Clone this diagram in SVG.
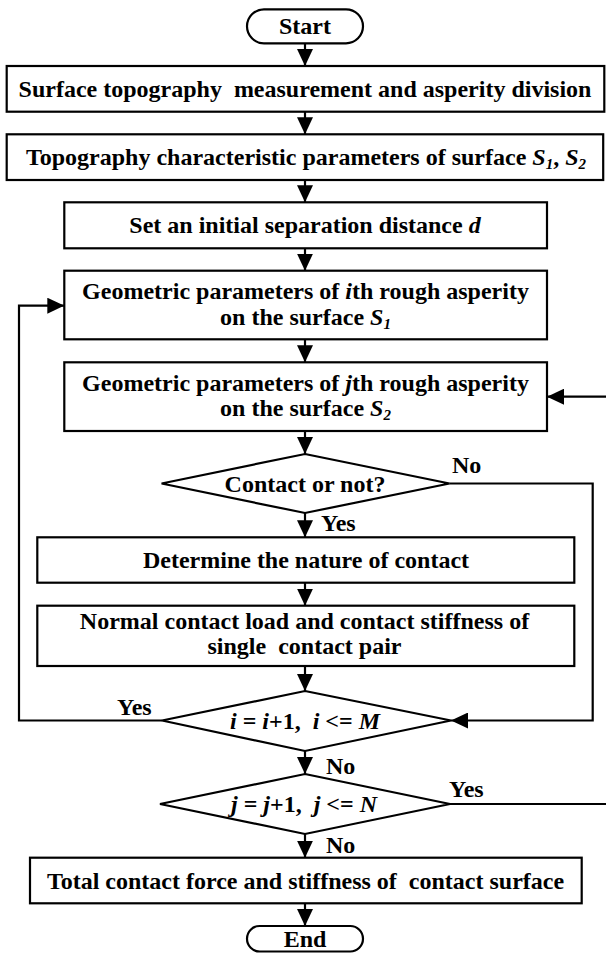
<svg xmlns="http://www.w3.org/2000/svg" width="606" height="953" viewBox="0 0 606 953">
<style>
.box{fill:#fff;stroke:#000;stroke-width:2.2}
.ln{fill:none;stroke:#000;stroke-width:2.2}
text{font-family:"Liberation Serif","Times New Roman",serif;font-weight:bold;font-size:24px;fill:#000;text-anchor:middle;white-space:pre}
.it{font-style:italic}
.sub{font-style:italic;font-size:15px}
.lbl{text-anchor:start}
</style>
<defs>
<marker id="ah" viewBox="0 0 17 16" refX="17" refY="8" markerWidth="17" markerHeight="16" markerUnits="userSpaceOnUse" orient="auto">
<path d="M0,0 L17,8 L0,16 Z" fill="#000"/>
</marker>
</defs>
<g id="connectors">
<line class="ln" x1="305" y1="43.3" x2="305" y2="66" marker-end="url(#ah)"/>
<line class="ln" x1="305" y1="111.7" x2="305" y2="134.3" marker-end="url(#ah)"/>
<line class="ln" x1="305" y1="180" x2="305" y2="202.3" marker-end="url(#ah)"/>
<line class="ln" x1="305" y1="248.3" x2="305" y2="270.7" marker-end="url(#ah)"/>
<line class="ln" x1="305" y1="339.3" x2="305" y2="362.3" marker-end="url(#ah)"/>
<line class="ln" x1="305" y1="431" x2="305" y2="454" marker-end="url(#ah)"/>
<line class="ln" x1="305" y1="513" x2="305" y2="537.3" marker-end="url(#ah)"/>
<line class="ln" x1="305" y1="582.7" x2="305" y2="605.7" marker-end="url(#ah)"/>
<line class="ln" x1="305" y1="666" x2="305" y2="691" marker-end="url(#ah)"/>
<line class="ln" x1="305" y1="751" x2="305" y2="774" marker-end="url(#ah)"/>
<line class="ln" x1="305" y1="834" x2="305" y2="857.7" marker-end="url(#ah)"/>
<line class="ln" x1="305" y1="903.3" x2="305" y2="926" marker-end="url(#ah)"/>
<polyline class="ln" points="449.5,483.5 592.7,483.5 592.7,720.5 451,720.5" marker-end="url(#ah)"/>
<polyline class="ln" points="162,720.5 19,720.5 19,305.7 64.3,305.7" marker-end="url(#ah)"/>
<line class="ln" x1="450" y1="804" x2="606" y2="804"/>
<line class="ln" x1="606" y1="396.7" x2="547" y2="396.7" marker-end="url(#ah)"/>
<text class="lbl" x="452" y="473">No</text>
<text class="lbl" x="321" y="531">Yes</text>
<text class="lbl" x="117" y="715">Yes</text>
<text class="lbl" x="326" y="774">No</text>
<text class="lbl" x="449" y="797">Yes</text>
<text class="lbl" x="326" y="852.7">No</text>
</g>
<g id="start">
<rect class="box" x="247" y="9.3" width="116" height="34" rx="17"/>
<text x="305" y="34">Start</text>
</g>
<g id="measure">
<rect class="box" x="6.7" y="66" width="597.6" height="45.7"/>
<text x="305" y="97">Surface topography  measurement and asperity division</text>
</g>
<g id="topo">
<rect class="box" x="6.7" y="134.3" width="596.5" height="45.7"/>
<text x="306" y="165">Topography characteristic parameters of surface <tspan class="it">S</tspan><tspan class="sub" dy="4">1</tspan><tspan dy="-4">, </tspan><tspan class="it">S</tspan><tspan class="sub" dy="4">2</tspan></text>
</g>
<g id="separation">
<rect class="box" x="64.3" y="202.3" width="482.7" height="46"/>
<text x="305" y="233">Set an initial separation distance <tspan class="it">d</tspan></text>
</g>
<g id="asperity-i">
<rect class="box" x="64.3" y="270.7" width="482.7" height="68.6"/>
<text x="305.5" y="299.3">Geometric parameters of <tspan class="it">i</tspan>th rough asperity</text>
<text x="305.5" y="325">on the surface <tspan class="it">S</tspan><tspan class="sub" dy="4">1</tspan></text>
</g>
<g id="asperity-j">
<rect class="box" x="64.3" y="362.3" width="482.7" height="68.7"/>
<text x="305.5" y="390.5">Geometric parameters of <tspan class="it">j</tspan>th rough asperity</text>
<text x="305.5" y="416">on the surface <tspan class="it">S</tspan><tspan class="sub" dy="4">2</tspan></text>
</g>
<g id="contact">
<polygon class="box" points="305,454 449.5,483.5 305,513 161.6,483.5"/>
<text x="305" y="491.5">Contact or not?</text>
</g>
<g id="nature">
<rect class="box" x="37.3" y="537.3" width="537" height="45.4"/>
<text x="306" y="568">Determine the nature of contact</text>
</g>
<g id="normal">
<rect class="box" x="37.3" y="605.7" width="537" height="60.3"/>
<text x="304.5" y="628.5">Normal contact load and contact stiffness of</text>
<text x="304.5" y="654">single  contact pair</text>
</g>
<g id="loop-i">
<polygon class="box" points="305,691 451,720.5 305,751 162,720.5"/>
<text x="305" y="729"><tspan class="it">i</tspan> = <tspan class="it">i</tspan>+1,  <tspan class="it">i</tspan> &lt;= <tspan class="it">M</tspan></text>
</g>
<g id="loop-j">
<polygon class="box" points="305,774 450,804 305,834 160,804"/>
<text x="304" y="812"><tspan class="it">j</tspan> = <tspan class="it">j</tspan>+1,  <tspan class="it">j</tspan> &lt;= <tspan class="it">N</tspan></text>
</g>
<g id="total">
<rect class="box" x="30" y="857.7" width="551.7" height="45.6"/>
<text x="305.5" y="888.5">Total contact force and stiffness of  contact surface</text>
</g>
<g id="end">
<rect class="box" x="247" y="926" width="116" height="25.5" rx="12.7"/>
<text x="305" y="947">End</text>
</g>
</svg>
